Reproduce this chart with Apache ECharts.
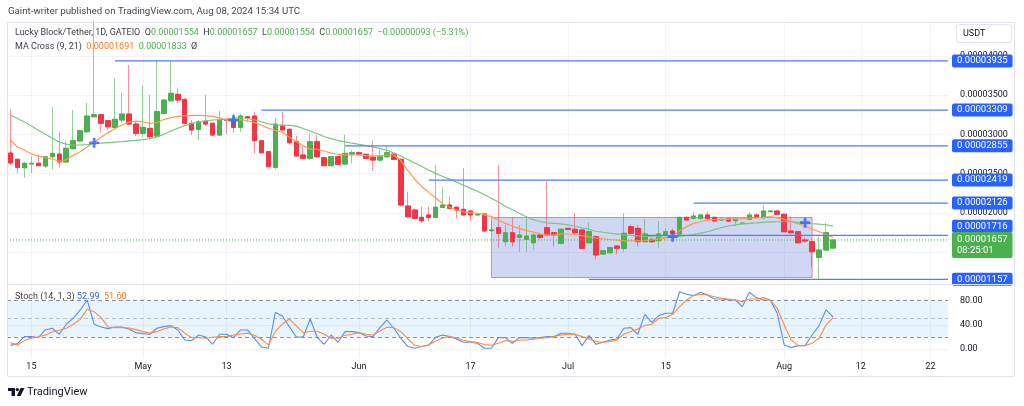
<!DOCTYPE html>
<html>
<head>
<meta charset="utf-8">
<title>Lucky Block/Tether 1D</title>
<script src="https://cdn.jsdelivr.net/npm/echarts@6.0.0/dist/echarts.min.js"></script>
<style>
html,body{margin:0;padding:0;background:#ffffff;}
#chart{width:1024px;height:406px;}
</style>
</head>
<body>
<div id="chart"></div>
<script>
// All prices are in units of 1e-8 USDT
const START_DATE = '2024-04-12';
const DAY_COUNT = 135; // time axis runs to 2024-08-24
const TICK_DATES = ['2024-04-15','2024-05-01','2024-05-13','2024-06-01','2024-06-17','2024-07-01','2024-07-15','2024-08-01','2024-08-12','2024-08-22'];

const openP = [
2763,2683,2576,2625,2632,2598,2716,2750,2649,2818,
2916,3034,3225,3250,3174,3090,3183,3259,3132,3014,
3077,2979,3268,3428,3510,3446,3141,3065,3166,3141,
2992,3192,3183,3090,3225,3234,2920,2780,2581,3107,
3065,2907,2738,2696,2907,2703,2602,2716,2623,2750,
2767,2747,2709,2674,2716,2750,2683,2089,2038,1945,
1975,1945,2073,2102,2073,2047,2025,1975,1987,1775,
1813,1635,1749,1691,1665,1622,1720,1813,1749,1614,
1805,1793,1784,1622,1699,1479,1495,1580,1551,1826,
1805,1635,1665,1648,1720,1770,1733,1945,1933,1933,
1975,1945,1911,1924,1902,1865,1920,1975,1940,2017,
2025,1983,1771,1762,1657,1635,1437,1529,1554];
const highP = [
3323,2695,2653,2716,2747,2725,3352,3034,2907,3310,
3060,3403,4450,3259,3183,3713,3530,3883,3166,3628,
3501,3946,3446,3925,3586,3455,3183,3183,3501,3150,
3301,3200,3268,3259,3234,3289,2925,2790,3205,3289,
3077,2979,2865,3014,2992,2710,2725,2725,2992,2801,
2790,2755,2920,2801,2852,2760,2695,2271,2060,2080,
2080,2611,2327,2207,2085,2569,2030,1990,1995,1877,
2611,1847,1945,1847,1953,1742,1747,2398,1755,1800,
1810,1996,1795,1877,1715,1525,1565,1585,1996,1850,
1847,1920,1680,1889,1800,1800,1950,1953,2017,1990,
2017,1950,1930,1930,1930,1875,2009,1990,2102,2035,
2040,1996,1953,1770,1690,1640,1699,1877,1657];
const lowP = [
2611,2508,2449,2508,2602,2569,2556,2576,2640,2810,
2900,3020,3217,3021,3060,3081,3149,3123,2978,2963,
2929,2963,3259,3420,3403,3128,2992,2929,3107,2985,
2985,3005,3021,3030,3161,2759,2760,2580,2556,3050,
2865,2716,2690,2674,2700,2595,2595,2610,2612,2632,
2740,2690,2538,2650,2705,2675,2080,1933,1923,1869,
1890,1933,2060,2050,1933,1970,1902,1970,1765,1765,
1559,1571,1571,1508,1508,1538,1665,1715,1571,1605,
1780,1740,1545,1610,1411,1470,1490,1479,1508,1730,
1571,1630,1620,1551,1710,1720,1725,1905,1920,1920,
1920,1890,1905,1890,1838,1860,1910,1940,1930,2010,
1975,1755,1740,1610,1620,1317,1157,1520,1554];
const closeP = [
2636,2581,2632,2632,2602,2716,2759,2649,2823,2920,
3047,3234,3250,3141,3098,3192,3259,3132,3014,3090,
2970,3289,3437,3523,3437,3141,3056,3161,3132,2992,
3183,3179,3090,3234,3212,2920,2767,2589,3132,3056,
2894,2725,2696,2907,2716,2602,2716,2620,2759,2767,
2750,2696,2674,2716,2767,2683,2102,1953,1933,1902,
1945,2073,2102,2060,2038,1975,1975,1983,1771,1785,
1742,1749,1635,1720,1707,1720,1691,1720,1720,1793,
1793,1749,1551,1762,1466,1520,1559,1551,1742,1742,
1635,1733,1635,1733,1762,1740,1945,1911,1962,1975,
1933,1898,1920,1898,1924,1872,1975,1953,2025,2025,
1983,1762,1749,1622,1644,1508,1529,1750,1657];

const ma9 = [
2929,2840,2798,2753,2724,2705,2687,2658,2678,2735,
2780,2840,2901,2963,3023,3072,3119,3156,3168,3161,
3142,3150,3189,3213,3230,3236,3241,3243,3239,3230,
3211,3182,3172,3189,3174,3152,3116,3080,3049,3028,
2963,2909,2856,2810,2810,2789,2762,2748,2739,2738,
2738,2731,2725,2730,2738,2738,2667,2543,2427,2338,
2263,2190,2118,2074,2039,2014,2006,1997,1977,1954,
1911,1868,1835,1802,1780,1757,1735,1720,1720,1733,
1733,1724,1711,1696,1683,1673,1663,1654,1645,1645,
1646,1648,1658,1668,1681,1707,1774,1827,1868,1889,
1911,1915,1919,1921,1925,1929,1934,1939,1945,1953,
1939,1922,1892,1865,1832,1796,1762,1727,1691];
const ma21 = [
3248,3203,3158,3108,3054,3001,2951,2902,2876,2865,
2865,2870,2879,2888,2895,2902,2909,2917,2925,2934,
2945,2969,3002,3043,3079,3112,3136,3159,3172,3183,
3187,3192,3206,3215,3202,3186,3159,3136,3121,3119,
3114,3105,3075,3044,3009,2973,2946,2922,2906,2888,
2873,2857,2841,2820,2799,2764,2725,2681,2636,2591,
2547,2504,2464,2431,2393,2354,2314,2276,2233,2188,
2139,2086,2042,1997,1953,1915,1892,1874,1868,1861,
1849,1832,1813,1790,1768,1755,1743,1732,1721,1715,
1709,1704,1699,1696,1693,1693,1704,1714,1727,1744,
1762,1789,1816,1835,1849,1861,1869,1875,1882,1887,
1889,1889,1889,1882,1875,1866,1858,1851,1833];

const stochK = [
5.9,9.0,20.4,20.4,18.7,31.4,34.2,24.3,40.8,50.7,
64.5,81.0,40.8,36.4,33.6,36.4,36.4,32.5,27.0,25.4,
24.3,34.2,36.9,38.6,31.4,14.9,13.8,23.1,19.8,7.7,
24.3,24.3,18.7,31.4,31.4,17.6,3.3,1.1,60.6,54.6,
36.9,19.8,19.8,49.6,19.3,7.7,23.1,11.0,28.7,28.7,
27.0,21.5,20.4,35.3,47.9,34.2,17.6,3.9,1.1,3.9,
6.6,19.3,23.1,20.4,16.5,11.0,11.0,9.4,1.1,1.1,
18.7,18.7,9.4,18.7,18.7,17.6,18.7,20.4,20.4,25.9,
25.9,24.3,5.5,22.0,7.7,11.0,14.9,16.5,34.2,35.3,
24.3,57.3,44.1,55.1,59.0,59.0,94.8,90.4,88.2,93.7,
89.3,82.7,82.7,81.0,81.0,70.0,93.7,84.9,81.0,81.0,
59.0,6.6,2.2,5.5,5.5,23.1,38.6,64.5,52.99];
const stochD = [
10.0,6.6,13.8,17.6,19.8,23.1,28.1,30.9,34.2,40.8,
49.0,66.1,61.7,51.8,36.4,35.3,35.3,34.7,32.0,28.7,
26.5,28.7,33.1,36.4,35.3,25.9,18.7,18.7,17.6,19.3,
20.4,20.4,23.1,24.8,25.9,22.6,16.5,6.6,28.7,41.3,
49.6,38.0,26.5,29.2,29.2,24.3,17.6,17.6,22.6,24.3,
27.0,24.3,23.1,29.8,35.8,35.3,28.7,16.5,6.1,3.9,
6.6,13.2,18.2,20.4,18.2,14.3,12.1,10.5,7.2,6.1,
9.4,13.8,12.1,14.9,14.9,16.0,17.6,18.7,20.4,23.1,
24.3,24.3,20.4,16.5,12.1,11.0,12.1,14.9,24.3,28.7,
33.1,38.6,40.8,50.7,51.8,57.3,70.0,81.0,88.2,90.4,
89.3,86.5,83.8,82.7,81.0,78.2,82.7,82.7,84.9,81.0,
67.2,39.7,14.9,5.5,5.5,9.4,17.6,39.7,51.6];

const LEVELS = [3935, 3309, 2855, 2419, 2126, 1716, 1157];
const LEVEL_FROM = ['2024-04-27','2024-05-18','2024-05-30','2024-06-11','2024-07-19','2024-07-12','2024-07-04'];
const RANGE_BOX = {from: '2024-06-20', to: '2024-08-05', top: 1943, bottom: 1180};
const CROSS_DATES = ['2024-04-24','2024-05-14','2024-07-16','2024-08-04'];
const CROSS_VALUES = [2894, 3183, 1699, 1877];
const STOCH_BANDS = [80, 50, 20];
const COUNTDOWN = '08:25:01';

// ---------- derived ----------
const dates = [];
(function(){
  const p = START_DATE.split('-').map(Number);
  for (let i = 0; i < DAY_COUNT; i++) {
    const d = new Date(Date.UTC(p[0], p[1]-1, p[2]+i));
    dates.push(d.toISOString().slice(0,10));
  }
})();
const idx = d => dates.indexOf(d);
const XMAX = DAY_COUNT - 0.5;
const MONTHS = ['Jan','Feb','Mar','Apr','May','Jun','Jul','Aug','Sep','Oct','Nov','Dec'];
const fmtDate = v => { const a = v.split('-').map(Number); return a[2] === 1 ? MONTHS[a[1]-1] : String(a[2]); };
const fmtP = v => (v / 1e8).toFixed(8);

const UP = '#4caf50', DOWN = '#f23645';
const UP_WICK = 'rgba(76,175,80,0.6)', DOWN_WICK = 'rgba(242,54,69,0.55)';
const LEVEL_COLOR = '#4f7ff0', LABEL_BLUE = '#2962ff';
const FONT = 'Roboto, "Noto Sans", "DejaVu Sans", sans-serif';
const TXT = '#3d3f47';
const FS = 9;

const candles = openP.map((o,i) => [o, closeP[i], lowP[i], highP[i]]);
const bodies = openP.map((o,i) => [o, closeP[i], Math.min(o, closeP[i]), Math.max(o, closeP[i])]);
const L = closeP.length - 1;
const chg = closeP[L] - closeP[L-1];
const pct = chg / closeP[L-1] * 100;
const sgn = chg < 0 ? '\u2212' : '+';
const lastCol = closeP[L] >= openP[L] ? 'g' : 'r';

const legend1 = '{n|Lucky Block/Tether, 1D, GATEIO}  {n|O}{' + lastCol + '|' + fmtP(openP[L]) + '}  {n|H}{' + lastCol + '|' + fmtP(highP[L]) + '}  {n|L}{' + lastCol + '|' + fmtP(lowP[L]) + '}  {n|C}{' + lastCol + '|' + fmtP(closeP[L]) + '}  {' + lastCol + '|' + sgn + fmtP(Math.abs(chg)) + ' (' + sgn + Math.abs(pct).toFixed(2) + '%)}';
const legend2 = '{n|MA Cross (9, 21)}  {o|' + fmtP(ma9[L]) + '}  {g|' + fmtP(ma21[L]) + '}  {n|\u00d8}';
const legend3 = '{n|Stoch (14, 1, 3)} {b|' + stochK[L].toFixed(2) + '}  {o|' + stochD[L].toFixed(2) + '}';

const richBase = {
  n: {color: TXT, fontSize: FS, fontFamily: FONT, lineHeight: 12},
  g: {color: UP, fontSize: FS, fontFamily: FONT, lineHeight: 12},
  r: {color: DOWN, fontSize: FS, fontFamily: FONT, lineHeight: 12},
  o: {color: '#ff7a1a', fontSize: FS, fontFamily: FONT, lineHeight: 12},
  b: {color: '#2962ff', fontSize: FS, fontFamily: FONT, lineHeight: 12}
};

const levelSeries = LEVELS.map((v, k) => ({
  type: 'line', xAxisIndex: 2, yAxisIndex: 0, z: 7, silent: true,
  data: [[idx(LEVEL_FROM[k]), v], [XMAX, v]],
  symbol: 'none', lineStyle: {color: LEVEL_COLOR, width: 1.2},
  endLabel: {
    show: true, formatter: fmtP(v), color: '#ffffff', backgroundColor: LABEL_BLUE,
    padding: [2, 5, 1, 5], fontSize: 9.5, fontFamily: FONT, lineHeight: 10,
    distance: 4, borderRadius: 2, offset: v === 1716 ? [0, -9] : [0, 0]
  }
}));

const option = {
  animation: false,
  backgroundColor: '#ffffff',
  textStyle: {fontFamily: FONT},
  title: [
    {left: 8, top: 6, padding: 0, text: 'Gaint-writer published on TradingView.com, Aug 08, 2024 15:34 UTC',
     textStyle: {fontSize: 9.7, fontWeight: 'normal', color: '#434651', fontFamily: FONT, lineHeight: 12}},
    {left: 15, top: 27, padding: 0, text: legend1, textStyle: {fontSize: FS, fontWeight: 'normal', lineHeight: 12, rich: richBase}},
    {left: 15, top: 41, padding: 0, text: legend2, textStyle: {fontSize: FS, fontWeight: 'normal', lineHeight: 12, rich: richBase}},
    {left: 15, top: 291, padding: 0, text: legend3, textStyle: {fontSize: FS, fontWeight: 'normal', lineHeight: 12, rich: richBase}},
    {left: 27, top: 386, padding: 0, text: 'TradingView',
     textStyle: {fontSize: 11, fontWeight: 'normal', color: '#131722', fontFamily: FONT, lineHeight: 13}}
  ],
  grid: [
    {left: 7, top: 22, width: 941, height: 262},
    {left: 7, top: 285, width: 941, height: 73}
  ],
  xAxis: [
    {type: 'category', gridIndex: 0, data: dates, boundaryGap: true,
     axisLine: {show: false}, axisTick: {show: false}, axisLabel: {show: false}, splitLine: {show: false}},
    {type: 'category', gridIndex: 1, data: dates, boundaryGap: true,
     axisLine: {show: false}, axisTick: {show: false}, splitLine: {show: false},
     axisLabel: {show: true, interval: (i, v) => TICK_DATES.indexOf(v) >= 0, formatter: fmtDate,
                 color: '#131722', fontSize: FS, fontFamily: FONT, margin: 4}},
    {type: 'value', gridIndex: 0, min: -0.5, max: XMAX, show: false},
    {type: 'value', gridIndex: 1, min: -0.5, max: XMAX, show: false}
  ],
  yAxis: [
    {type: 'value', gridIndex: 0, position: 'right', min: 1097, max: 4430,
     axisLine: {show: false}, axisTick: {show: false},
     axisLabel: {color: '#131722', fontSize: FS, fontFamily: FONT, margin: 12, formatter: fmtP,
                 showMinLabel: false, showMaxLabel: false},
     splitLine: {lineStyle: {color: '#f0f3fa', width: 1}}},
    {type: 'value', gridIndex: 1, position: 'right', min: -15, max: 105.8,
     axisLine: {show: false}, axisTick: {show: false}, splitLine: {show: false},
     axisLabel: {color: '#131722', fontSize: FS, fontFamily: FONT, margin: 12,
                 formatter: v => ([0, 40, 80].indexOf(v) >= 0 ? v.toFixed(2) : ''),
                 showMinLabel: false, showMaxLabel: false}}
  ],
  series: [
    // vertical grid lines (price pane)
    {type: 'line', xAxisIndex: 2, yAxisIndex: 0, data: [], z: 0, silent: true,
     markLine: {z: 0, silent: true, symbol: 'none', label: {show: false},
                lineStyle: {color: '#f0f3fa', type: 'solid', width: 1},
                data: TICK_DATES.map(d => ({xAxis: idx(d)}))}},
    // vertical grid lines + horizontal grid (stoch pane)
    {type: 'line', xAxisIndex: 3, yAxisIndex: 1, data: [], z: 0, silent: true,
     markLine: {z: 0, silent: true, symbol: 'none', label: {show: false},
                lineStyle: {color: '#f0f3fa', type: 'solid', width: 1},
                data: TICK_DATES.map(d => ({xAxis: idx(d)})).concat([{yAxis: 0}, {yAxis: 40}])}},
    // range rectangle
    {type: 'line', xAxisIndex: 2, yAxisIndex: 0, z: 1, silent: true, symbol: 'none',
     data: [[idx(RANGE_BOX.from), RANGE_BOX.top], [idx(RANGE_BOX.to), RANGE_BOX.bottom]],
     lineStyle: {opacity: 0},
     markArea: {z: 1, silent: true,
                itemStyle: {color: 'rgba(120,140,220,0.35)', borderColor: '#e8868d', borderWidth: 1},
                data: [[{coord: [idx(RANGE_BOX.from), RANGE_BOX.top]}, {coord: [idx(RANGE_BOX.to), RANGE_BOX.bottom]}]]}},
    // candles: wicks
    {type: 'candlestick', xAxisIndex: 0, yAxisIndex: 0, z: 3, data: candles, barWidth: 5,
     itemStyle: {color: UP, color0: DOWN, borderColor: UP_WICK, borderColor0: DOWN_WICK, borderWidth: 1}},
    // candles: bodies
    {type: 'candlestick', xAxisIndex: 0, yAxisIndex: 0, z: 4, data: bodies, barWidth: 5,
     itemStyle: {color: UP, color0: DOWN, borderColor: UP, borderColor0: DOWN, borderWidth: 1}},
    // MA lines
    {type: 'line', xAxisIndex: 0, yAxisIndex: 0, z: 5, data: ma9, symbol: 'none', silent: true,
     lineStyle: {color: '#ff9a50', width: 1.2}},
    {type: 'line', xAxisIndex: 0, yAxisIndex: 0, z: 5, data: ma21, symbol: 'none', silent: true,
     lineStyle: {color: '#7cc47f', width: 1.2}},
    // MA cross markers
    {type: 'scatter', xAxisIndex: 0, yAxisIndex: 0, z: 6, silent: true,
     data: CROSS_DATES.map((d, k) => [d, CROSS_VALUES[k]]),
     symbol: 'path://M4,0H7V4H11V7H7V11H4V7H0V4H4Z', symbolSize: 10,
     itemStyle: {color: '#2962ff'}},
    ...levelSeries,
    // current price
    {type: 'line', xAxisIndex: 2, yAxisIndex: 0, z: 8, silent: true, symbol: 'none',
     data: [[-0.5, closeP[L]], [XMAX, closeP[L]]],
     lineStyle: {color: UP, width: 1, type: [1, 2]},
     endLabel: {show: true, formatter: fmtP(closeP[L]) + '\n' + COUNTDOWN, color: '#ffffff',
                backgroundColor: UP, padding: [2, 5, 2, 5], fontSize: 9.5, fontFamily: FONT,
                lineHeight: 11, distance: 4, borderRadius: 2, offset: [0, 5]}},
    // stochastic
    {type: 'line', xAxisIndex: 1, yAxisIndex: 1, z: 5, data: stochK, symbol: 'none', silent: true,
     lineStyle: {color: '#5b8def', width: 1.1},
     markArea: {z: 1, silent: true, itemStyle: {color: 'rgba(33,150,243,0.1)'},
                data: [[{yAxis: STOCH_BANDS[2]}, {yAxis: STOCH_BANDS[0]}]]},
     markLine: {z: 2, silent: true, symbol: 'none', label: {show: false},
                data: [
                  {yAxis: STOCH_BANDS[0], lineStyle: {color: '#8f929c', type: [4, 3], width: 1}},
                  {yAxis: STOCH_BANDS[1], lineStyle: {color: 'rgba(143,146,156,0.55)', type: [4, 3], width: 1}},
                  {yAxis: STOCH_BANDS[2], lineStyle: {color: '#8f929c', type: [4, 3], width: 1}}
                ]}},
    {type: 'line', xAxisIndex: 1, yAxisIndex: 1, z: 5, data: stochD, symbol: 'none', silent: true,
     lineStyle: {color: '#ff8a3d', width: 1.1}}
  ],
  graphic: [
    {type: 'rect', silent: true, z: 50, shape: {x: 7.5, y: 22.5, width: 1007, height: 354},
     style: {fill: 'none', stroke: '#e0e3eb', lineWidth: 1}},
    {type: 'line', silent: true, z: 50, shape: {x1: 7, y1: 284.5, x2: 1015, y2: 284.5},
     style: {stroke: '#e0e3eb', lineWidth: 1}},
    {type: 'rect', silent: true, z: 50, shape: {x: 956.5, y: 24.5, width: 55, height: 18, r: 3},
     style: {fill: '#ffffff', stroke: '#e0e3eb', lineWidth: 1}},
    {type: 'text', silent: true, z: 51, style: {x: 963, y: 34, text: 'USDT', fill: '#131722',
     font: '9px Roboto, sans-serif', verticalAlign: 'middle'}},
    // TradingView logo mark
    {type: 'rect', silent: true, z: 51, shape: {x: 8, y: 388, width: 7, height: 3}, style: {fill: '#131722'}},
    {type: 'rect', silent: true, z: 51, shape: {x: 11.5, y: 388, width: 3.5, height: 8}, style: {fill: '#131722'}},
    {type: 'circle', silent: true, z: 51, shape: {cx: 17.3, cy: 389.6, r: 1.7}, style: {fill: '#131722'}},
    {type: 'polygon', silent: true, z: 51, shape: {points: [[20.5, 388], [24.5, 388], [20.5, 396], [16.8, 396]]}, style: {fill: '#131722'}}
  ]
};

const chart = echarts.init(document.getElementById('chart'), null, {renderer: 'canvas'});
chart.setOption(option);
</script>
</body>
</html>
